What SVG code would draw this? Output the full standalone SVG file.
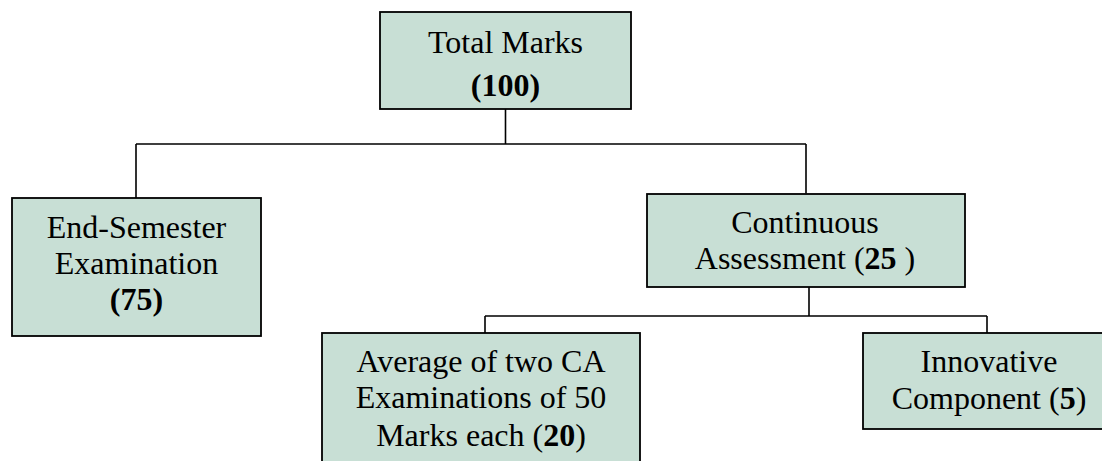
<svg xmlns="http://www.w3.org/2000/svg" width="1102" height="461" viewBox="0 0 1102 461">
<style>
.box{fill:#c8dfd5;stroke:#000;stroke-width:1.8}
.t{font-family:"Liberation Serif","Times New Roman",serif;font-size:32px;fill:#000;text-anchor:middle}
.b{font-weight:bold}
.c{fill:none;stroke:#000;stroke-width:1.6}
</style>
<rect width="1102" height="461" fill="#fff"/>
<g id="connectors">
<path class="c" d="M505.5,109 V144 M136,144 H806 M136,144 V198 M806,144 V193.5 M809,287 V316 M485,316 H987 M485,316 V333 M987,316 V333"/>
</g>
<g id="total">
<rect class="box" x="380" y="12" width="251" height="97"/>
<text class="t" x="505.5" y="53">Total Marks</text>
<text class="t b" x="505.5" y="96">(100)</text>
</g>
<g id="endsem">
<rect class="box" x="12" y="198" width="249" height="138"/>
<text class="t" x="136.5" y="238">End-Semester</text>
<text class="t" x="136.5" y="274">Examination</text>
<text class="t b" x="136.5" y="310">(75)</text>
</g>
<g id="continuous">
<rect class="box" x="647" y="194" width="318" height="93"/>
<text class="t" x="805" y="233">Continuous</text>
<text class="t" x="805" y="269">Assessment (<tspan class="b">25</tspan> )</text>
</g>
<g id="average">
<rect class="box" x="322" y="333" width="318" height="140"/>
<text class="t" x="481" y="372">Average of two CA</text>
<text class="t" x="481" y="408">Examinations of 50</text>
<text class="t" x="481" y="446">Marks each (<tspan class="b">20</tspan>)</text>
</g>
<g id="innovative">
<rect class="box" x="863" y="333" width="250" height="96"/>
<text class="t" x="989" y="372">Innovative</text>
<text class="t" x="989" y="409">Component (<tspan class="b">5</tspan>)</text>
</g>
</svg>
